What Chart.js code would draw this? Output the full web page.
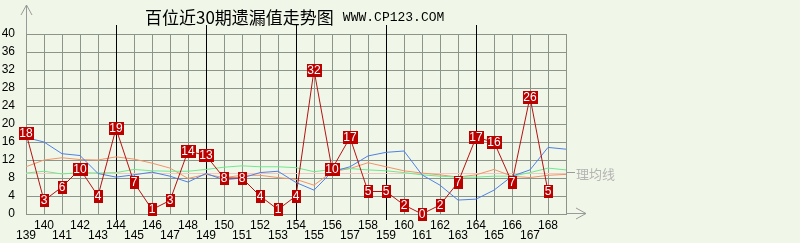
<!DOCTYPE html>
<html>
<head>
<meta charset="utf-8">
<script src="https://cdn.jsdelivr.net/npm/chart.js@4"></script>
<style>
  html, body { margin: 0; padding: 0; background: #f0f7e8; }
  canvas { display: block; }
</style>
</head>
<body>
<canvas id="trend" width="800" height="243"></canvas>
<script>
// 期号 (最后一格 169 只画网格，不标注)
const periods = [139,140,141,142,143,144,145,146,147,148,149,150,151,152,153,154,155,156,157,158,159,160,161,162,163,164,165,166,167,168];
const xLabels = [...periods, 169];
// 百位遗漏值
const omission = [18,3,6,10,4,19,7,1,3,14,13,8,8,4,1,4,32,10,17,5,5,2,0,2,7,17,16,7,26,5];
// 三条均线
const avgBlue = [17,16,13.4,13,9,8.2,8.7,9.3,8.4,7.1,9,7.6,8,9.2,9.5,7,5.3,9.4,10.5,12.9,13.7,14,8.7,6.4,3.1,3.3,5.3,8.4,9.8,14.8,14.4];
const avgOrange = [10.5,12,12.5,12.1,12,12.7,12.2,11.3,10.2,7.9,8.8,8.1,8.6,8.6,8.1,7.7,6.4,9.4,10.1,11.4,10.5,9.6,9.1,8.7,8.2,8.7,9.9,8.4,8.1,8.6,8.8];
const avgGreen = [9.1,9.5,8.9,9.2,9.1,9.2,9.9,9.6,9.5,9.5,9.9,10.4,10.7,10.5,10.5,10.3,9.4,9.9,10.1,9.8,9.6,9.2,8.7,8.4,8.2,8.2,8.4,8.4,9.2,10.2,9.8];
const theory = xLabels.map(() => 9);
const markPeriods = [144,149,154,159,164];
const yTicks = [0,4,8,12,16,20,24,28,32,36,40];

const titleCn = '百位近30期遗漏值走势图';
const titleEn = 'WWW.CP123.COM';
const theoryLabel = '理均线';

Chart.defaults.font.family = '"Liberation Sans", Arial, sans-serif';
Chart.defaults.font.size = 12;
Chart.defaults.color = '#000';

const decor = {
  id: 'decor',
  beforeDraw(chart) {
    const ctx = chart.ctx;
    ctx.save();
    ctx.fillStyle = '#f0f7e8';
    ctx.fillRect(0, 0, chart.width, chart.height);
    ctx.restore();
  },
  beforeDatasetsDraw(chart) {
    const { ctx, scales: { x } } = chart;
    ctx.save();
    ctx.strokeStyle = '#000';
    ctx.lineWidth = 1;
    markPeriods.forEach(p => {
      const px = Math.round(x.getPixelForValue(xLabels.indexOf(p))) + 0.5;
      ctx.beginPath();
      ctx.moveTo(px, 25);
      ctx.lineTo(px, 220);
      ctx.stroke();
    });
    ctx.restore();
  },
  afterDatasetsDraw(chart) {
    const { ctx, chartArea: a, scales: { y } } = chart;
    ctx.save();

    // 数值方框
    ctx.font = '12px "Liberation Sans", Arial, sans-serif';
    ctx.textAlign = 'center';
    ctx.textBaseline = 'middle';
    chart.getDatasetMeta(0).data.forEach((pt, i) => {
      if (omission[i] === undefined) return;
      const txt = String(omission[i]);
      const w = Math.round(ctx.measureText(txt).width + 2);
      const h = 13;
      ctx.fillStyle = '#bb0000';
      ctx.fillRect(Math.round(pt.x - w / 2), Math.round(pt.y - h / 2), w, h);
      ctx.fillStyle = '#fff';
      ctx.fillText(txt, pt.x, pt.y + 0.5);
    });

    // 坐标箭头
    ctx.strokeStyle = '#9a9a9a';
    ctx.beginPath();
    ctx.moveTo(a.left + 0.5, 5); ctx.lineTo(a.left + 0.5, a.top);
    ctx.moveTo(a.left - 5, 15); ctx.lineTo(a.left + 0.5, 5); ctx.lineTo(a.left + 6, 15);
    ctx.moveTo(a.right, a.bottom - 0.5); ctx.lineTo(a.right + 20, a.bottom - 0.5);
    ctx.moveTo(a.right + 10, a.bottom - 6); ctx.lineTo(a.right + 20, a.bottom - 0.5); ctx.lineTo(a.right + 10, a.bottom + 5);
    ctx.stroke();

    // 理均线标注
    const ty = Math.round(y.getPixelForValue(9)) - 1.5;
    ctx.beginPath();
    ctx.moveTo(a.right, ty); ctx.lineTo(a.right + 9, ty);
    ctx.stroke();
    ctx.fillStyle = '#b4b4b4';
    ctx.font = '13px "Noto Sans CJK SC"';
    ctx.textAlign = 'left';
    ctx.fillText(theoryLabel, a.right + 10, ty + 2);

    // 标题
    ctx.fillStyle = '#000';
    ctx.font = '17px "Noto Sans CJK SC"';
    ctx.textBaseline = 'middle';
    ctx.fillText(titleCn, 145, 18);
    const w1 = ctx.measureText(titleCn).width;
    ctx.font = '13px "Liberation Mono", monospace';
    ctx.fillText(titleEn, 145 + w1 + 9, 18);

    ctx.restore();
  }
};

const gridColor = '#8c958a';

new Chart(document.getElementById('trend').getContext('2d'), {
  type: 'line',
  data: {
    labels: xLabels,
    datasets: [
      { data: omission, borderColor: '#b31212', borderWidth: 1, pointRadius: 0, tension: 0 },
      { data: avgBlue, borderColor: '#4f7fe6', borderWidth: 1, pointRadius: 0, tension: 0 },
      { data: avgGreen, borderColor: '#6ee88e', borderWidth: 1, pointRadius: 0, tension: 0 },
      { data: avgOrange, borderColor: '#f0946a', borderWidth: 1, pointRadius: 0, tension: 0 },
      { data: theory, borderColor: '#efc8c0', borderWidth: 1, pointRadius: 0, tension: 0 }
    ]
  },
  options: {
    responsive: false,
    animation: false,
    layout: { padding: { top: 34, right: 234, bottom: 0, left: 0 } },
    plugins: { legend: { display: false }, tooltip: { enabled: false }, title: { display: false } },
    scales: {
      x: {
        grid: { color: gridColor, drawTicks: false },
        border: { color: gridColor },
        afterFit: s => { s.height = 29; },
        ticks: {
          autoSkip: false,
          maxRotation: 0,
          padding: 7,
          font: { size: 12, lineHeight: '10px' },
          callback: function (v, i) {
            const p = periods[i];
            if (p === undefined) return '';
            return p % 2 === 0 ? [String(p)] : ['', String(p)];
          }
        }
      },
      y: {
        min: 0,
        max: 40,
        afterFit: s => { s.width = 26; },
        afterBuildTicks: s => { s.ticks = yTicks.map(v => ({ value: v })); },
        grid: { color: gridColor, drawTicks: false },
        border: { color: gridColor },
        ticks: { padding: 11, font: { size: 12 } }
      }
    }
  },
  plugins: [decor]
});
</script>
</body>
</html>
